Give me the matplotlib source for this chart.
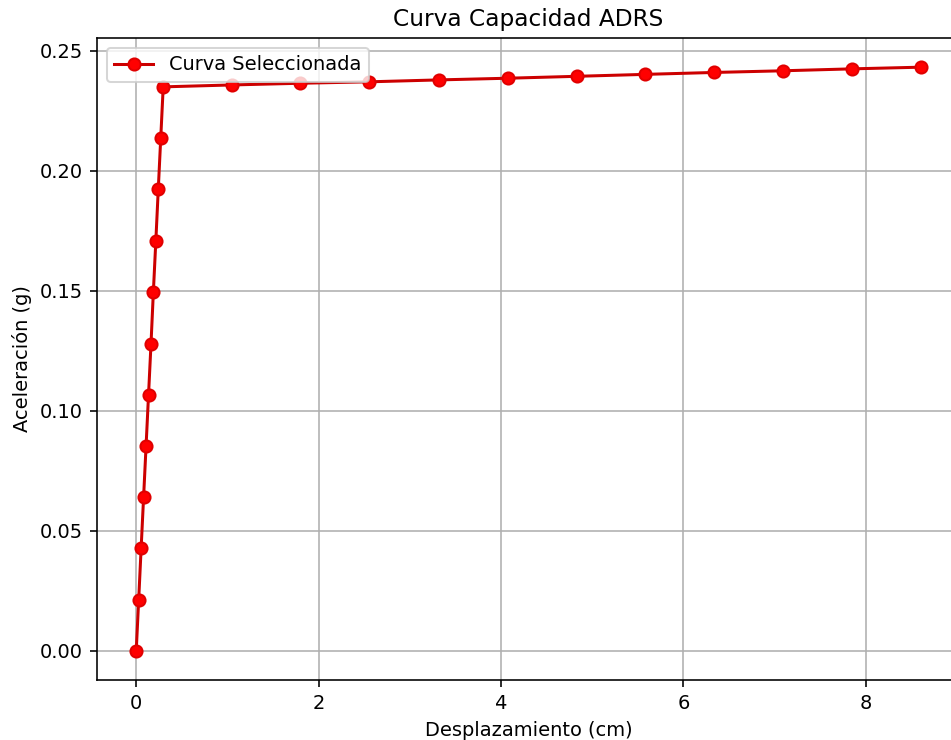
import numpy as np
import matplotlib
matplotlib.use("Agg")
import matplotlib.pyplot as plt

# datos de la curva de capacidad
desplazamiento = [0.0, 0.027, 0.054, 0.081, 0.108, 0.135, 0.162, 0.188, 0.215,
                  0.242, 0.269, 0.296,
                  1.052, 1.797, 2.553, 3.321, 4.077, 4.833, 5.578, 6.334,
                  7.090, 7.847, 8.603]
aceleracion = [0.0, 0.0213, 0.0429, 0.0642, 0.0854, 0.1067, 0.1279, 0.1496,
               0.1708, 0.1925, 0.2138, 0.2350,
               0.2358, 0.2365, 0.2371, 0.2379, 0.2386, 0.2394, 0.2402, 0.2410,
               0.2417, 0.2425, 0.2432]

plt.rcParams['font.size'] = 9.6

dpi = 145
fig = plt.figure(figsize=(951 / dpi, 740 / dpi), dpi=dpi)
# el eje derecho queda fuera de la imagen (recortada)
ax = fig.add_axes([97 / 951, 1 - 680 / 740, (960 - 97) / 951, (680 - 38) / 740])

ax.plot(desplazamiento, aceleracion, '-o', color='#cc0000',
        markerfacecolor='red', markeredgecolor='#e00000',
        label='Curva Seleccionada')

ax.set_title('Curva Capacidad ADRS')
ax.set_xlabel('Desplazamiento (cm)')
ax.set_ylabel('Aceleración (g)')
ax.grid(True)
ax.legend(loc='upper left')

fig.savefig('out.png', dpi=dpi)
